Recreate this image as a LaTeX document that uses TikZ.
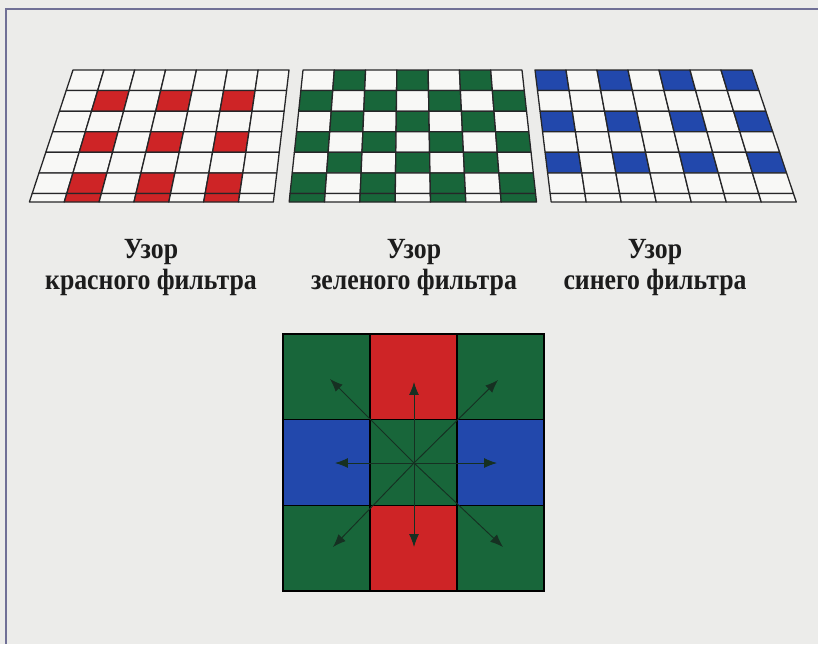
\documentclass[tikz,border=0pt]{standalone}
\usepackage{fontspec}
\setmainfont{Liberation Serif}
\newfontfamily\labelfont{Liberation Serif}[FakeStretch=0.88]
\usepackage{tikz}
\usetikzlibrary{arrows.meta,calc,positioning}
\definecolor{FilterRed}{RGB}{206,36,38}
\definecolor{FilterGreen}{RGB}{24,102,58}
\definecolor{FilterBlue}{RGB}{34,72,172}
\definecolor{PaperGray}{RGB}{236,236,234}
\definecolor{CellWhite}{RGB}{248,248,246}
\definecolor{GridInk}{RGB}{38,38,40}
\definecolor{FrameBlue}{RGB}{112,112,150}
\definecolor{ArrowInk}{RGB}{22,48,34}
\definecolor{TextInk}{RGB}{28,28,28}
\newcommand{\persp}[2]{(#1)+((#1)-410)/1020*((#2)-70)}

\begin{document}
\begin{tikzpicture}[x=0.03cm,y=-0.03cm,>=Latex,
    cellline/.style={draw=GridInk,line width=1.1pt,line join=round},
    filterlbl/.style={font=\labelfont\bfseries\fontsize{25}{30}\selectfont,text=TextInk,inner sep=0pt,anchor=base},
    dirarrow/.style={-{Latex[length=11pt,width=8.5pt]},ArrowInk,line width=0.8pt}]
  \useasboundingbox (0,0) rectangle (818,644);
  \fill[PaperGray] (0,0) rectangle (818,644);
  \draw[FrameBlue,line width=1.4pt] (6,644)--(6,9)--(818,9);

  % the three filter patterns, seen in perspective
  \foreach \t/\gx/\gw/\gcol in {1/73/216/FilterRed,2/303/219/FilterGreen,3/535/217/FilterBlue}{
    \foreach \r in {1,...,7}{
      \foreach \c in {1,...,7}{
        \pgfmathsetmacro{\ya}{70+(\r-1)*20.58}
        \pgfmathsetmacro{\yb}{\r<7 ? 70+\r*20.58 : 202}
        \pgfmathsetmacro{\xa}{\gx+(\c-1)*\gw/7}
        \pgfmathsetmacro{\xb}{\gx+\c*\gw/7}
        \pgfmathtruncatemacro{\rr}{min(\r,6)}
        \pgfmathtruncatemacro{\on}{(\t==1)*(mod(\rr,2)==0)*(mod(\c,2)==0)+(\t==2)*(mod(\rr+\c,2)==1)+(\t==3)*(mod(\rr,2)==1)*(mod(\c,2)==1)}
        \ifnum\on=1 \def\cc{\gcol}\else\def\cc{CellWhite}\fi
        \filldraw[cellline,fill=\cc] ({\persp{\xa}{\ya}},\ya) -- ({\persp{\xb}{\ya}},\ya)
          -- ({\persp{\xb}{\yb}},\yb) -- ({\persp{\xa}{\yb}},\yb) -- cycle;
      }
    }
  }

  % captions
  \node[filterlbl] (redtop) at (151,258) {Узор};
  \node[filterlbl] (redsub) at ($(redtop.base)+(0,31)$) {красного фильтра};
  \node[filterlbl] (greentop) at (414,258) {Узор};
  \node[filterlbl] (greensub) at ($(greentop.base)+(0,31)$) {зеленого фильтра};
  \node[filterlbl] (bluetop) at (655,258) {Узор};
  \node[filterlbl] (bluesub) at ($(bluetop.base)+(0,31)$) {синего фильтра};

  % 3x3 neighbourhood
  \foreach \i/\j/\col in {0/0/FilterGreen,1/0/FilterRed,2/0/FilterGreen,
      0/1/FilterBlue,1/1/FilterGreen,2/1/FilterBlue,
      0/2/FilterGreen,1/2/FilterRed,2/2/FilterGreen}
    \filldraw[fill=\col,draw=black,line width=1.1pt] ({283+\i*87},{334+\j*85.7}) rectangle ++(87,85.7);

  \coordinate (ctr) at (414,463);
  \foreach \n/\dx/\dy in {n/0/-81,s/0/84,w/-79/0,e/83/0,nw/-84/-84,ne/84/-83,sw/-81/84,se/89/84}{
    \coordinate (tip\n) at ($(ctr)+(\dx,\dy)$);
    \draw[dirarrow] (ctr) -- (tip\n);
  }
\end{tikzpicture}
\end{document}
